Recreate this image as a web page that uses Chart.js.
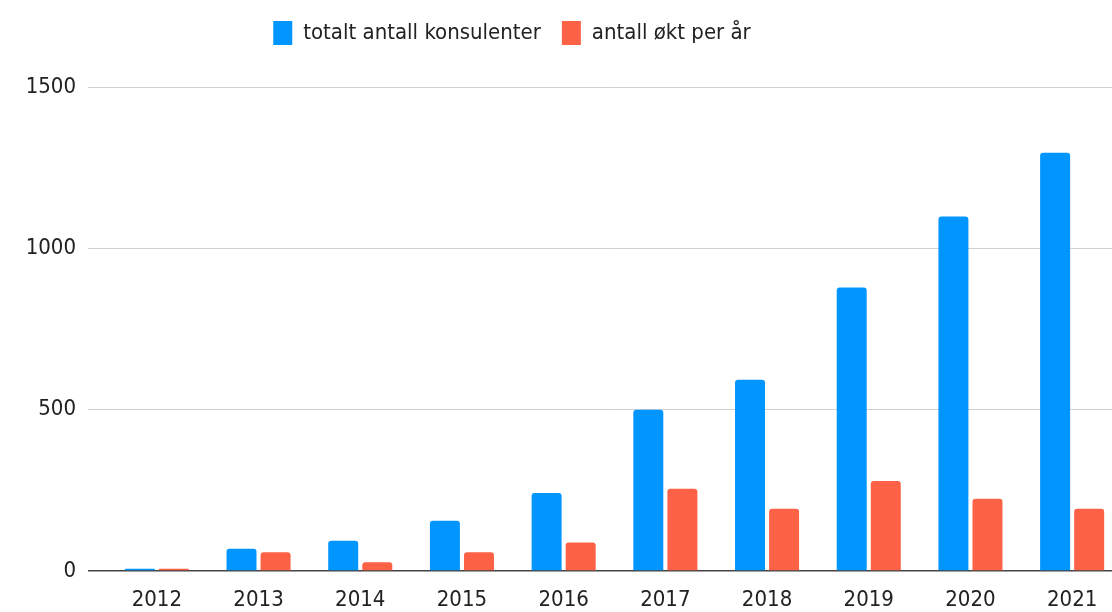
<!DOCTYPE html>
<html>
<head>
<meta charset="utf-8">
<script src="https://cdn.jsdelivr.net/npm/chart.js@4.4.1/dist/chart.umd.min.js"></script>
<style>
  html, body { margin: 0; padding: 0; background: #fff; overflow: hidden; width: 1112px; height: 612px; }
  #wrap { position: absolute; left: -99px; top: 0; width: 1222px; height: 612px; }
</style>
</head>
<body>
<div id="wrap"><canvas id="chart" width="1222" height="612"></canvas></div>
<script>
// data
const years        = ['2012','2013','2014','2015','2016','2017','2018','2019','2020','2021'];
const totalCount   = [7, 69, 94, 156, 242, 500, 593, 879, 1099, 1296];
const yearlyGrowth = [7, 58, 27, 58, 88, 255, 193, 279, 224, 193];
const yTicks       = [0, 500, 1000, 1500];

const FONT = "'DejaVu Sans Condensed', 'DejaVu Sans', sans-serif";
const TXT  = '#222222';

// push the plot down below the legend, like the original
const legendGap = {
    id: 'legendGap',
    beforeInit(chart) {
        const fit = chart.legend.fit;
        chart.legend.fit = function() {
            fit.bind(chart.legend)();
            this.height = 87;
        };
    }
};

new Chart(document.getElementById('chart').getContext('2d'), {
    type: 'bar',
    data: {
        labels: years,
        datasets: [
            { label: 'totalt antall konsulenter', data: totalCount,   backgroundColor: '#0095ff', borderRadius: 3 },
            { label: 'antall økt per år',         data: yearlyGrowth, backgroundColor: '#fd6146', borderRadius: 3 }
        ]
    },
    options: {
        responsive: false,
        animation: false,
        layout: { padding: { top: 0, left: 0, right: 0, bottom: 0 } },
        datasets: { bar: { categoryPercentage: 0.67, barPercentage: 0.88 } },
        plugins: {
            legend: {
                position: 'top',
                labels: { color: TXT, font: { family: FONT, size: 22 }, boxWidth: 19, boxHeight: 24, padding: 21 }
            },
            tooltip: { enabled: false }
        },
        scales: {
            x: {
                grid: { display: false, drawTicks: false },
                border: { display: false },
                ticks: { color: TXT, font: { family: FONT, size: 22 }, padding: 16, maxRotation: 0 },
                afterFit: (s) => { s.height = 41; }
            },
            y: {
                min: 0,
                max: 1500,
                afterBuildTicks: (s) => { s.ticks = yTicks.map(v => ({ value: v })); },
                grid: {
                    color: (c) => c.tick && c.tick.value === 0 ? '#444444' : '#d0d0d0',
                    lineWidth: (c) => c.tick && c.tick.value === 0 ? 1.5 : 1,
                    tickLength: 18
                },
                border: { display: false },
                ticks: { color: TXT, font: { family: FONT, size: 22 }, padding: 12, callback: (v) => String(v) },
                afterFit: (s) => { s.width = 205; }
            }
        }
    },
    plugins: [legendGap]
});
</script>
</body>
</html>
